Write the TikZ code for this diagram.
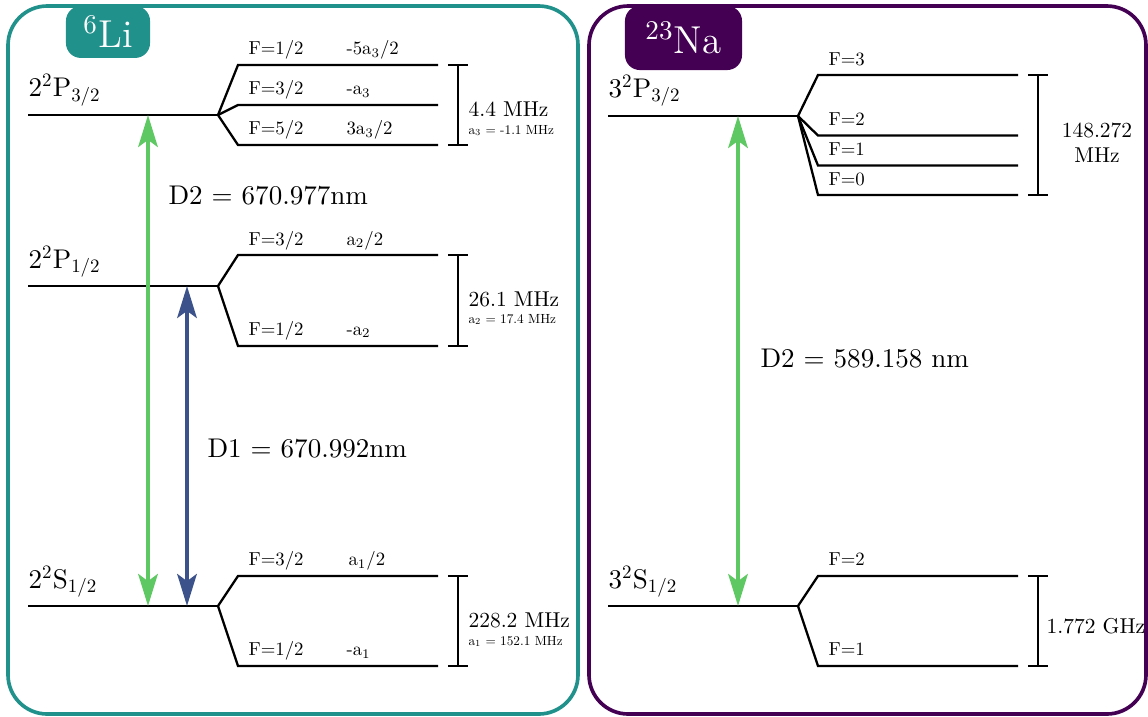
\documentclass[tikz,border=0pt]{standalone}
\usetikzlibrary{arrows.meta}
\definecolor{liteal}{HTML}{21918C}
\definecolor{napurp}{HTML}{440154}
\definecolor{dgreen}{HTML}{5EC962}
\definecolor{dblue}{HTML}{3B528B}
\newcommand{\FLtxt}[1]{\scalebox{0.695}{#1}}
\newcommand{\HFtxt}[1]{\scalebox{0.795}{#1}}
\newcommand{\AStxt}[1]{\scalebox{0.49}{#1}}
\newcommand{\STlab}[3]{#1$^{\scalebox{0.7}{2}}$#2$_{\scalebox{0.7}{#3}}$}
\begin{document}
\begin{tikzpicture}[x=0.37pt,y=-0.37pt,
  lvl/.style={line width=0.85pt, line join=miter},
  frame/.style={line width=1.35pt, rounded corners=14.5pt},
  titlebox/.style={rounded corners=5.5pt, text=white, font=\Large, inner sep=0pt},
  flab/.style={anchor=base west, inner sep=0pt},
  slab/.style={font=\normalsize, anchor=base west, inner sep=0pt},
  trans/.style={line width=1.5pt, {Stealth[length=11.8pt,width=7.2pt,inset=2.6pt]}-{Stealth[length=11.8pt,width=7.2pt,inset=2.6pt]}},
  dlab/.style={font=\normalsize, anchor=base west, inner sep=0pt}]
\useasboundingbox (0,0) rectangle (1148,716);

% ---------- frames ----------
\draw[frame, draw=liteal] (8,6) rectangle (578,714);
\draw[frame, draw=napurp] (589,6) rectangle (1146,714);
\node[titlebox, fill=liteal, minimum width=31.1pt, minimum height=19.2pt] (titli) at (108,32) {$^6$Li};
\node[titlebox, fill=napurp, minimum width=43.3pt, minimum height=23.7pt] (titna) at (683.5,38) {$^{23}$Na};

% ---------- Li levels ----------
% P3/2
\coordinate (lp3s) at (28,115); \coordinate (lp3) at (218,115);
\draw[lvl] (lp3s) -- (lp3);
\draw[lvl] (lp3) -- (238,65) -- (438,65);
\draw[lvl] (lp3) -- (238,105) -- (438,105);
\draw[lvl] (lp3) -- (238,145) -- (438,145);
\node[slab] (lp3lab) at (28,96.5) {\STlab{2}{P}{3/2}};
\node[flab] (lf1) at (248,54.5) {\FLtxt{F=1/2}};
\node[flab] (la1) at (346,54.5) {\FLtxt{-5a$_3$/2}};
\node[flab] (lf2) at (248,94.5) {\FLtxt{F=3/2}};
\node[flab] (la2) at (346,94.5) {\FLtxt{-a$_3$}};
\node[flab] (lf3) at (248,134.5) {\FLtxt{F=5/2}};
\node[flab] (la3) at (346,134.5) {\FLtxt{3a$_3$/2}};
\draw[lvl] (448,65) -- (468,65) (458,65) -- (458,145) (448,145) -- (468,145);
\node[flab] (lp3hf) at (468,116) {\HFtxt{4.4 MHz}};
\node[flab] (lp3a) at (468,134) {\AStxt{a$_3$ $=$ -1.1 MHz}};

% P1/2
\coordinate (lp1s) at (28,286); \coordinate (lp1) at (218,286);
\draw[lvl] (lp1s) -- (lp1);
\draw[lvl] (lp1) -- (238,255) -- (438,255);
\draw[lvl] (lp1) -- (238,346) -- (438,346);
\node[slab] (lp1lab) at (28,268) {\STlab{2}{P}{1/2}};
\node[flab] (lf4) at (248,245) {\FLtxt{F=3/2}};
\node[flab] (la4) at (346,245) {\FLtxt{a$_2$/2}};
\node[flab] (lf5) at (248,335) {\FLtxt{F=1/2}};
\node[flab] (la5) at (346,335) {\FLtxt{-a$_2$}};
\draw[lvl] (448,255) -- (468,255) (458,255) -- (458,346) (448,346) -- (468,346);
\node[flab] (lp1hf) at (468,306) {\HFtxt{26.1 MHz}};
\node[flab] (lp1a) at (468,323) {\AStxt{a$_2$ $=$ 17.4 MHz}};

% S1/2
\coordinate (ls1s) at (28,606); \coordinate (ls1) at (218,606);
\draw[lvl] (ls1s) -- (ls1);
\draw[lvl] (ls1) -- (238,576) -- (438,576);
\draw[lvl] (ls1) -- (238,666) -- (438,666);
\node[slab] (ls1lab) at (28,588) {\STlab{2}{S}{1/2}};
\node[flab] (lf6) at (248,565.5) {\FLtxt{F=3/2}};
\node[flab] (la6) at (348,565.5) {\FLtxt{a$_1$/2}};
\node[flab] (lf7) at (248,655.5) {\FLtxt{F=1/2}};
\node[flab] (la7) at (346,655.5) {\FLtxt{-a$_1$}};
\draw[lvl] (448,576) -- (468,576) (458,576) -- (458,666) (448,666) -- (468,666);
\node[flab] (ls1hf) at (468,627) {\HFtxt{228.2 MHz}};
\node[flab] (ls1a) at (468,645) {\AStxt{a$_1$ $=$ 152.1 MHz}};

% transitions Li
\coordinate (lD2t) at (148,115); \coordinate (lD2b) at (148,606);
\coordinate (lD1t) at (187,286); \coordinate (lD1b) at (187,606);
\draw[trans, draw=dgreen, fill=dgreen] (lD2t) -- (lD2b);
\draw[trans, draw=dblue, fill=dblue] (lD1t) -- (lD1b);
\node[dlab] (lD2lab) at (168,204) {D2 $=$ 670.977nm};
\node[dlab] (lD1lab) at (207,457) {D1 $=$ 670.992nm};

% ---------- Na levels ----------
\coordinate (np3s) at (608,116); \coordinate (np3) at (798,116);
\draw[lvl] (np3s) -- (np3);
\draw[lvl] (np3) -- (818,75) -- (1018,75);
\draw[lvl] (np3) -- (818,135.5) -- (1018,135.5);
\draw[lvl] (np3) -- (818,165.5) -- (1018,165.5);
\draw[lvl] (np3) -- (818,195) -- (1018,195);
\node[slab] (np3lab) at (608,97) {\STlab{3}{P}{3/2}};
\node[flab] (nf3) at (828,65) {\FLtxt{F=3}};
\node[flab] (nf2) at (828,125) {\FLtxt{F=2}};
\node[flab] (nf1) at (828,155.5) {\FLtxt{F=1}};
\node[flab] (nf0) at (828,185) {\FLtxt{F=0}};
\draw[lvl] (1028,75) -- (1048,75) (1038,75) -- (1038,195) (1028,195) -- (1048,195);
\node[anchor=base, inner sep=0pt] (nhf1) at (1097,137) {\HFtxt{148.272}};
\node[anchor=base, inner sep=0pt] (nhf2) at (1097,162) {\HFtxt{MHz}};

\coordinate (ns1s) at (608,606); \coordinate (ns1) at (798,606);
\draw[lvl] (ns1s) -- (ns1);
\draw[lvl] (ns1) -- (818,576) -- (1018,576);
\draw[lvl] (ns1) -- (818,666) -- (1018,666);
\node[slab] (ns1lab) at (608,588) {\STlab{3}{S}{1/2}};
\node[flab] (nf2s) at (828,565.5) {\FLtxt{F=2}};
\node[flab] (nf1s) at (828,655.5) {\FLtxt{F=1}};
\draw[lvl] (1028,576) -- (1048,576) (1038,576) -- (1038,666) (1028,666) -- (1048,666);
\node[flab] (ns1hf) at (1046,633) {\HFtxt{1.772 GHz}};

\coordinate (nD2t) at (738,116); \coordinate (nD2b) at (738,606);
\draw[trans, draw=dgreen, fill=dgreen] (nD2t) -- (nD2b);
\node[dlab] (nD2lab) at (760,367) {D2 $=$ 589.158 nm};
\end{tikzpicture}
\end{document}
